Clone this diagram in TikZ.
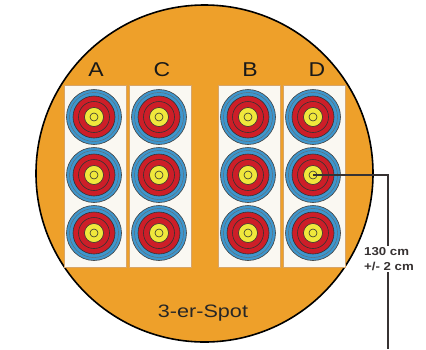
\documentclass[tikz,border=0pt]{standalone}
\usepackage{fontspec}
\setmainfont{Liberation Sans}
\newfontfamily\widesans[FakeStretch=1.15]{Liberation Sans}
\newfontfamily\widersans[FakeStretch=1.2]{Liberation Sans}
\definecolor{torange}{RGB}{238,160,42}
\definecolor{tblue}{RGB}{62,150,205}
\definecolor{tred}{RGB}{205,30,40}
\definecolor{tyellow}{RGB}{240,232,60}
\definecolor{tpanel}{RGB}{250,248,242}
\definecolor{tpanelline}{RGB}{215,165,105}
\definecolor{tline}{RGB}{55,50,50}
\tikzset{
  panelbox/.style={rectangle, fill=tpanel, draw=tpanelline, line width=0.8pt, minimum width=62pt, minimum height=182pt, inner sep=0pt},
  target/.style={circle, minimum size=55pt, inner sep=0pt, fill=tblue, draw=black!75, line width=0.6pt,
    path picture={
      \draw[black!60, line width=0.4pt] (path picture bounding box.center) circle (24.5pt);
      \fill[tred, draw=black!80, line width=0.6pt] (path picture bounding box.center) circle (21pt);
      \draw[black!80, line width=0.6pt] (path picture bounding box.center) circle (15.5pt);
      \fill[tyellow, draw=black!80, line width=0.6pt] (path picture bounding box.center) circle (9.5pt);
      \draw[black!80, line width=0.6pt] (path picture bounding box.center) circle (4pt);
    }},
  collabel/.style={font=\widesans\fontsize{20}{22}\selectfont, text=black!90, inner sep=0pt},
  spotlabel/.style={font=\widersans\fontsize{18}{20}\selectfont, text=black!85, inner sep=0pt},
  measlabel/.style={font=\widesans\bfseries\fontsize{11.5}{15}\selectfont, text=tline, align=left, inner sep=1.5pt},
  connector/.style={draw=tline, line width=1.1pt}
}
\begin{document}
\begin{tikzpicture}[x=1pt,y=-1pt]
  \fill[white] (0,0) rectangle (426,349);
  \useasboundingbox (0,0) rectangle (426,349);
  % big orange disc
  \node[circle, fill=torange, draw=black, line width=1.6pt, minimum size=337pt, inner sep=0pt] (disc) at (204.5,173.5) {};
  % panels
  \node[panelbox] (pA) at (95,176) {};
  \node[panelbox] (pC) at (160,176) {};
  \node[panelbox] (pB) at (249,176) {};
  \node[panelbox] (pD) at (314,176) {};
  % column labels
  \node[collabel] (lA) at (96,70) {A};
  \node[collabel] (lC) at (162,70) {C};
  \node[collabel] (lB) at (250,70) {B};
  \node[collabel] (lD) at (317,70) {D};
  % targets
  \foreach \c/\x in {A/94, C/159, B/248, D/313}{
    \foreach \r/\y in {1/117, 2/175, 3/233}{
      \node[target] (t\c\r) at (\x,\y) {};
    }
  }
  % caption
  \node[spotlabel] (spot) at (203,313) {3-er-Spot};
  % measurement
  \node[measlabel] (meas) at (389,259) {130 cm\\+/- 2 cm};
  \coordinate (bottomend) at (388,349);
  \draw[connector] (tD2.center) -| (bottomend |- meas.north);
  \draw[connector] (bottomend |- meas.south) -- (bottomend);
\end{tikzpicture}
\end{document}
